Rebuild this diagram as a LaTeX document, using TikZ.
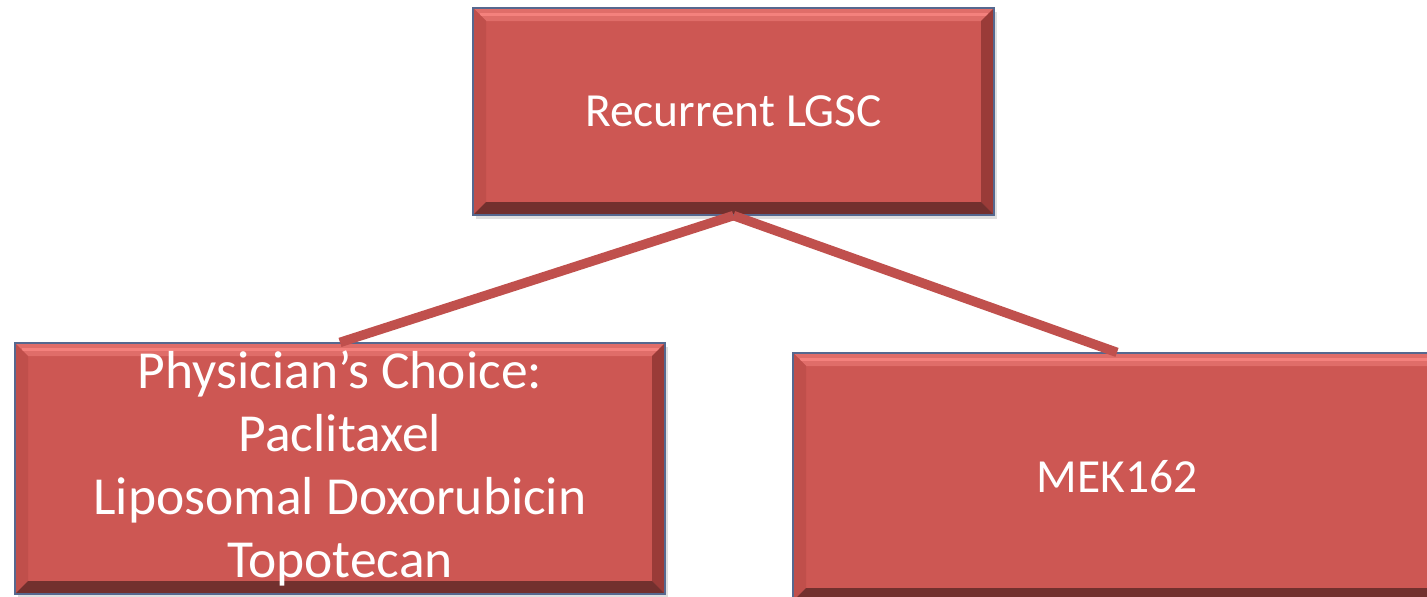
\documentclass[tikz,border=0pt]{standalone}
\usepackage{fontspec}
\setmainfont{Carlito}
\usetikzlibrary{positioning}
\usetikzlibrary{shadows}
\definecolor{boxred}{HTML}{CD5753}
\definecolor{bevtop}{HTML}{E06D69}
\definecolor{bevlight}{HTML}{F4817D}
\definecolor{bevleft}{HTML}{C04F4B}
\definecolor{bevright}{HTML}{9A3B38}
\definecolor{bevbottom}{HTML}{72302E}
\definecolor{edgeblue}{HTML}{56688F}
\definecolor{linkred}{HTML}{C0504D}
\newcommand{\bevw}{13pt}
\tikzset{
        treenode/.style={align=center,inner sep=0pt},
        % Bevelled red boxes
        bevelbox/.style={treenode, rectangle, fill=boxred, draw=edgeblue, line width=1.2pt, text=white,
            font=\fontsize{47.5}{63}\selectfont,
            drop shadow={shadow xshift=3pt, shadow yshift=-4pt, opacity=0.25},
            path picture={
                \path (path picture bounding box.north west) coordinate (bnw)
                      (path picture bounding box.north east) coordinate (bne)
                      (path picture bounding box.south west) coordinate (bsw)
                      (path picture bounding box.south east) coordinate (bse);
                % top
                \fill[bevtop] (bnw) -- (bne) -- ([shift={(-\bevw,-\bevw)}]bne) -- ([shift={(\bevw,-\bevw)}]bnw) -- cycle;
                \draw[bevlight, line width=3pt] ([shift={(0.5*\bevw,-0.5*\bevw)}]bnw) -- ([shift={(-0.5*\bevw,-0.5*\bevw)}]bne);
                % left
                \fill[bevleft] (bnw) -- ([shift={(\bevw,-\bevw)}]bnw) -- ([shift={(\bevw,\bevw)}]bsw) -- (bsw) -- cycle;
                % right
                \fill[bevright] (bne) -- (bse) -- ([shift={(-\bevw,\bevw)}]bse) -- ([shift={(-\bevw,-\bevw)}]bne) -- cycle;
                % bottom
                \fill[bevbottom] (bsw) -- (bse) -- ([shift={(-\bevw,\bevw)}]bse) -- ([shift={(\bevw,\bevw)}]bsw) -- cycle;
            }},
        % Connectors
        link/.style={draw=linkred, line width=9.5pt}
}
\begin{document}
\begin{tikzpicture}[
            x=1pt, y=-1pt,
            level 1/.style={sibling distance=777pt, level distance=361pt},
            edge from parent/.style={link},
            edge from parent path={(\tikzparentnode.south) -- (\tikzchildnode.north)}
        ]
            \useasboundingbox (0,0) rectangle (1427,597);
            \clip (0,0) rectangle (1427,597);
            \node[bevelbox, minimum width=521pt, minimum height=207pt] (lgsc) at (733.5,111.5) {Recurrent LGSC}
                child { node[bevelbox, minimum width=650pt, minimum height=251pt, xshift=-5pt, yshift=4pt,
                        font=\fontsize{53.5}{63}\selectfont] (choice)
                    {Physician’s Choice:\\Paclitaxel\\Liposomal Doxorubicin\\Topotecan} }
                child { node[bevelbox, minimum width=648pt, minimum height=248pt, xshift=-5pt, yshift=-4.5pt] (mek)
                    {MEK162} }
            ;
        \end{tikzpicture}
\end{document}
